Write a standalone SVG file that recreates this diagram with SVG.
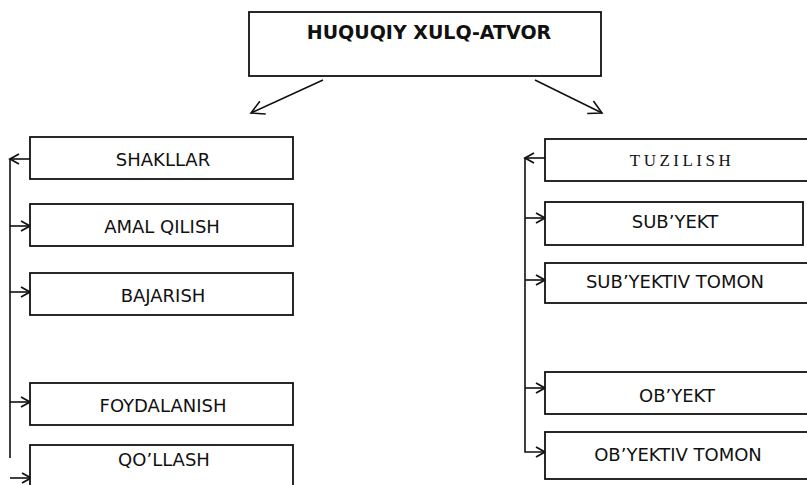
<svg xmlns="http://www.w3.org/2000/svg" width="807" height="485" viewBox="0 0 807 485">
<defs>
<marker id="ah" viewBox="0 0 12 12" refX="10" refY="6" markerWidth="12" markerHeight="12" markerUnits="userSpaceOnUse" orient="auto">
<polyline points="1,1 10,6 1,11" fill="none" stroke="#111" stroke-width="1.8"/>
</marker>
<marker id="ahb" viewBox="0 0 16 16" refX="14" refY="8" markerWidth="16" markerHeight="16" markerUnits="userSpaceOnUse" orient="auto">
<polyline points="1,1 14,8 1,15" fill="none" stroke="#111" stroke-width="1.6"/>
</marker>
</defs>
<style>
rect{fill:#fff;stroke:#111;stroke-width:1.8}
text{font-family:"DejaVu Sans","Liberation Sans",sans-serif;font-size:18px;fill:#111;text-anchor:middle}
.t{font-weight:bold;font-size:19px}
.serif{font-family:"Liberation Serif","DejaVu Serif",serif;font-size:17px;letter-spacing:3.5px}
.c{fill:none;stroke:#111;stroke-width:1.6}
</style>
<rect width="807" height="485" style="fill:#fff;stroke:none"/>
<g id="connectors">
<line class="c" x1="323" y1="80" x2="251" y2="113" marker-end="url(#ahb)"/>
<line class="c" x1="535" y1="80" x2="602" y2="113" marker-end="url(#ahb)"/>
<line class="c" x1="10" y1="159" x2="10" y2="458"/>
<line class="c" x1="30" y1="159" x2="10" y2="159" marker-end="url(#ah)"/>
<line class="c" x1="10" y1="226" x2="30" y2="226" marker-end="url(#ah)"/>
<line class="c" x1="10" y1="292" x2="30" y2="292" marker-end="url(#ah)"/>
<line class="c" x1="10" y1="402" x2="30" y2="402" marker-end="url(#ah)"/>
<line class="c" x1="10" y1="478" x2="31" y2="478" marker-end="url(#ah)"/>
<path class="c" d="M525,158 V452 H545" marker-end="url(#ah)"/>
<line class="c" x1="545" y1="158" x2="525" y2="158" marker-end="url(#ah)"/>
<line class="c" x1="525" y1="218" x2="545" y2="218" marker-end="url(#ah)"/>
<line class="c" x1="525" y1="280" x2="545" y2="280" marker-end="url(#ah)"/>
<line class="c" x1="525" y1="388" x2="545" y2="388" marker-end="url(#ah)"/>
</g>
<g id="root"><rect x="249" y="12" width="352" height="64"/><text class="t" x="429" y="39">HUQUQIY XULQ-ATVOR</text></g>
<g id="shakllar"><rect x="30" y="137" width="263" height="42"/><text x="163" y="166">SHAKLLAR</text></g>
<g id="amal"><rect x="30" y="204" width="263" height="42"/><text x="162" y="233">AMAL QILISH</text></g>
<g id="bajarish"><rect x="30" y="273" width="263" height="42"/><text x="163" y="302">BAJARISH</text></g>
<g id="foydalanish"><rect x="30" y="383" width="263" height="42"/><text x="163" y="412">FOYDALANISH</text></g>
<g id="qollash"><rect x="30" y="445" width="263" height="50"/><text x="164" y="466">QO’LLASH</text></g>
<g id="tuzilish"><rect x="545" y="139" width="270" height="42"/><text class="serif" x="682" y="166">TUZILISH</text></g>
<g id="subyekt"><rect x="545" y="202" width="258" height="43"/><text x="675" y="228">SUB’YEKT</text></g>
<g id="subyektiv"><rect x="545" y="263" width="270" height="40"/><text x="675" y="288">SUB’YEKTIV TOMON</text></g>
<g id="obyekt"><rect x="545" y="372" width="270" height="42"/><text x="677" y="402">OB’YEKT</text></g>
<g id="obyektiv"><rect x="545" y="432" width="270" height="47"/><text x="678" y="461">OB’YEKTIV TOMON</text></g>
</svg>
